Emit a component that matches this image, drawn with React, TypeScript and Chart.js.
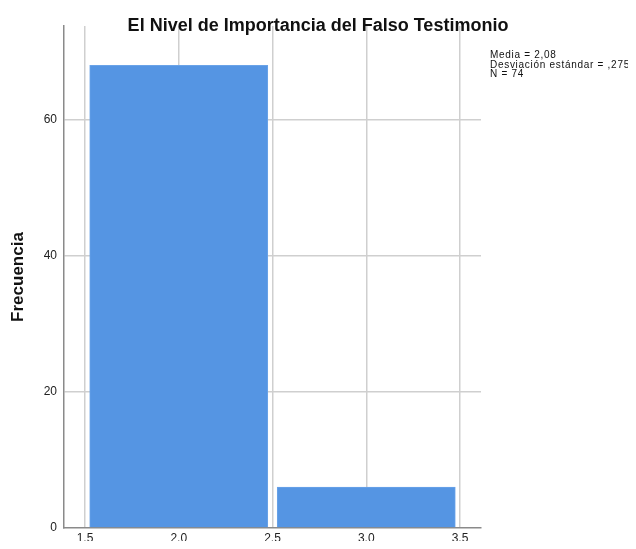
import React, { useEffect, useRef } from "react";
import { Chart, registerables } from "chart.js";

Chart.register(...registerables);

const binCenters: number[] = [2.0, 3.0];
const frequencies: number[] = [68, 6];
const xTickValues: number[] = [1.5, 2.0, 2.5, 3.0, 3.5];
const yTickValues: number[] = [0, 20, 40, 60];
const titleText = "El Nivel de Importancia del Falso Testimonio";
const yAxisTitle = "Frecuencia";
const statsLines: string[] = ["Media = 2,08", "Desviación estándar = ,275", "N = 74"];

const FONT = "'Liberation Sans', Arial, sans-serif";

const overlayPlugin = {
  id: "overlayText",
  afterDraw(chart: any) {
    const ctx = chart.ctx;
    ctx.save();
    ctx.fillStyle = "#111";
    ctx.font = `bold 18px ${FONT}`;
    ctx.textAlign = "center";
    ctx.textBaseline = "middle";
    ctx.fillText(titleText, 310, 18);
    ctx.font = `10px ${FONT}`;
    ctx.textAlign = "left";
    ctx.textBaseline = "alphabetic";
    const longest = statsLines.reduce((a, b) => (b.length > a.length ? b : a), "");
    const baseW = ctx.measureText(longest).width;
    const spacing = Math.max(0, (140 - baseW) / longest.length);
    try { (ctx as any).letterSpacing = `${spacing.toFixed(2)}px`; } catch (e) {}
    statsLines.forEach((s, i) => {
      ctx.fillText(s, 482, 50 + i * 9.7);
    });
    ctx.restore();
  },
};

export default function App() {
  const ref = useRef<HTMLCanvasElement>(null);
  useEffect(() => {
    document.documentElement.style.overflow = "hidden";
    document.body.style.overflow = "hidden";
    if (!ref.current) return;
    const chart = new Chart(ref.current, {
      type: "bar",
      data: {
        datasets: [
          {
            data: binCenters.map((x, i) => ({ x, y: frequencies[i] })),
            backgroundColor: "#5595e3",
            borderColor: "#6aa3e8",
            borderWidth: 1,
            barThickness: "flex",
            barPercentage: 0.95,
            categoryPercentage: 1,
          },
        ],
      },
      options: {
        responsive: false,
        animation: false,
        layout: { padding: { top: 18, right: 155, bottom: 0, left: 0 } },
        plugins: { legend: { display: false }, tooltip: { enabled: false } },
        scales: {
          x: {
            type: "linear",
            offset: false,
            min: 1.388,
            max: 3.612,
            bounds: "data",
            afterBuildTicks: (s: any) => {
              s.ticks = xTickValues.map((v) => ({ value: v }));
            },
            afterFit: (s: any) => {
              s.height = 21;
            },
            ticks: {
              font: { family: FONT, size: 12 },
              color: "#222",
              padding: 3,
              callback: (v: any) => Number(v).toFixed(1).replace(".", ","),
            },
            grid: { offset: false, color: "#cfcfcf", lineWidth: 1.5, drawTicks: false, tickLength: 0 },
            border: { display: true, color: "#8a8a8a", width: 1.5 },
          },
          y: {
            type: "linear",
            min: 0,
            max: 73.8,
            bounds: "data",
            afterBuildTicks: (s: any) => {
              s.ticks = yTickValues.map((v) => ({ value: v }));
            },
            afterFit: (s: any) => {
              s.width = 56;
            },
            ticks: {
              font: { family: FONT, size: 12 },
              color: "#222",
              padding: 7,
            },
            grid: {
              color: (c: any) => (c.tick && c.tick.value === 0 ? "rgba(0,0,0,0)" : "#cfcfcf"),
              lineWidth: 1.5,
              drawTicks: false,
              tickLength: 0,
            },
            border: { display: true, color: "#8a8a8a", width: 1.5 },
            title: {
              display: true,
              text: yAxisTitle,
              font: { family: FONT, size: 17, weight: "bold" },
              color: "#111",
              padding: { top: 0, bottom: 0 },
            },
          },
        },
      },
      plugins: [overlayPlugin],
    } as any);
    return () => chart.destroy();
  }, []);
  return (
    <div style={{ width: 628, height: 541, marginBottom: -8, marginRight: -8 }}>
      <canvas ref={ref} width={628} height={541} style={{ display: "block" }} />
    </div>
  );
}
